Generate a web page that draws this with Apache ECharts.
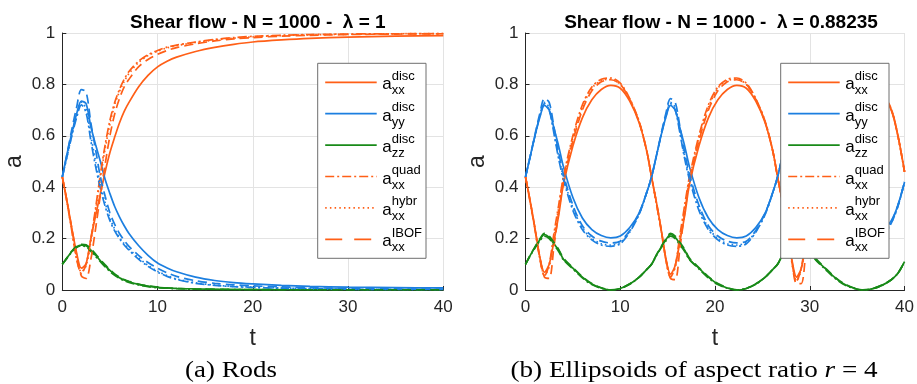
<!DOCTYPE html>
<html><head><meta charset="utf-8">
<script src="https://cdn.jsdelivr.net/npm/echarts@6/dist/echarts.min.js"></script>
<style>html,body{margin:0;padding:0;background:#fff}#c{width:917px;height:384px}</style>
</head><body><div id="c"></div>
<script>
// ---------- Left panel (rods, lambda = 1) ----------
const tL = [0,0.5,1,1.5,2,2.5,3,3.5,4,4.5,5,5.5,6,6.5,7,8,9,10,11,12,14,16,18,20,23,26,30,35,40];
const xxDiscL = [0.44,0.345,0.24,0.145,0.085,0.103,0.2,0.29,0.375,0.46,0.535,0.595,0.65,0.695,0.73,0.79,0.835,0.868,0.89,0.906,0.928,0.944,0.956,0.965,0.973,0.979,0.984,0.988,0.99];
const yyDiscL = [0.44,0.53,0.61,0.685,0.735,0.725,0.635,0.565,0.5,0.43,0.375,0.325,0.285,0.25,0.22,0.173,0.135,0.105,0.086,0.071,0.05,0.037,0.029,0.024,0.018,0.014,0.011,0.009,0.008];
const zzDiscL = [0.1,0.125,0.15,0.168,0.175,0.172,0.155,0.135,0.114,0.094,0.076,0.06,0.048,0.039,0.032,0.022,0.015,0.01,0.008,0.006,0.004,0.003,0.002,0.002,0.001,0.001,0.001,0.001,0.001];
const xxQuadL = [0.44,0.34,0.23,0.12,0.065,0.10,0.2,0.32,0.45,0.565,0.66,0.73,0.78,0.82,0.85,0.89,0.915,0.932,0.945,0.953,0.965,0.975,0.982,0.987,0.991,0.994,0.996,0.997,0.998];
const yyQuadL = [0.44,0.52,0.6,0.67,0.72,0.69,0.58,0.48,0.395,0.325,0.27,0.23,0.2,0.175,0.155,0.12,0.092,0.07,0.053,0.041,0.026,0.018,0.013,0.01,0.007,0.005,0.003,0.002,0.002];
const zzQuadL = [0.1,0.124,0.148,0.165,0.172,0.168,0.15,0.13,0.11,0.09,0.072,0.057,0.045,0.036,0.029,0.02,0.013,0.009,0.007,0.005,0.003,0.002,0.002,0.001,0.001,0.001,0.001,0.001,0.001];
const xxHybrL = [0.44,0.34,0.232,0.125,0.07,0.095,0.19,0.31,0.435,0.55,0.645,0.72,0.772,0.812,0.842,0.885,0.912,0.929,0.942,0.951,0.963,0.973,0.98,0.985,0.99,0.993,0.995,0.997,0.998];
const yyHybrL = [0.44,0.52,0.605,0.68,0.73,0.705,0.6,0.5,0.41,0.34,0.28,0.237,0.205,0.18,0.16,0.125,0.096,0.073,0.056,0.043,0.028,0.019,0.014,0.011,0.008,0.005,0.003,0.002,0.002];
const xxIbofL = [0.44,0.345,0.24,0.135,0.055,0.045,0.12,0.24,0.37,0.49,0.6,0.685,0.745,0.79,0.82,0.868,0.897,0.917,0.932,0.943,0.958,0.969,0.977,0.982,0.988,0.991,0.994,0.996,0.997];
const yyIbofL = [0.44,0.53,0.625,0.71,0.78,0.77,0.65,0.545,0.44,0.365,0.3,0.255,0.22,0.193,0.17,0.135,0.107,0.085,0.067,0.053,0.036,0.026,0.02,0.016,0.012,0.009,0.006,0.004,0.003];
const zzIbofL = [0.1,0.126,0.152,0.171,0.178,0.176,0.16,0.14,0.118,0.098,0.079,0.063,0.05,0.041,0.034,0.023,0.016,0.011,0.008,0.006,0.004,0.003,0.002,0.002,0.001,0.001,0.001,0.001,0.001];

// ---------- Right panel (ellipsoids, lambda = 0.88235) ----------
const tR = [0,0.5,1,1.5,2,2.5,3,3.5,4,5,6,7,8,9,10,11,12,12.8,
  13.3,13.8,14.3,14.8,15.3,15.8,16.3,16.8,17.3,18.3,19.3,20.3,21.3,22.3,23.3,24.3,25.3,26.1,
  26.6,27.1,27.6,28.1,28.6,29.1,29.6,30.1,30.6,31.6,32.6,33.6,34.6,35.6,36.6,37.6,38.6,39.3,40];
const xxDiscR = [0.44,0.345,0.24,0.13,0.069,0.10,0.19,0.29,0.41,0.56,0.67,0.74,0.78,0.796,0.785,0.735,0.65,0.54,
  0.44,0.345,0.24,0.125,0.062,0.095,0.19,0.29,0.41,0.56,0.67,0.74,0.78,0.796,0.785,0.735,0.65,0.54,
  0.44,0.345,0.235,0.12,0.05,0.085,0.18,0.285,0.40,0.55,0.665,0.735,0.775,0.795,0.79,0.76,0.70,0.60,0.46];
const yyDiscR = [0.44,0.52,0.60,0.67,0.718,0.70,0.63,0.56,0.48,0.36,0.28,0.235,0.212,0.203,0.21,0.243,0.30,0.38,
  0.44,0.52,0.60,0.67,0.718,0.70,0.63,0.56,0.48,0.36,0.28,0.235,0.212,0.203,0.21,0.243,0.30,0.38,
  0.44,0.52,0.60,0.67,0.718,0.70,0.63,0.56,0.48,0.36,0.28,0.235,0.212,0.203,0.205,0.225,0.27,0.33,0.42];
const zzDiscR = [0.10,0.135,0.166,0.195,0.216,0.205,0.18,0.155,0.12,0.085,0.05,0.023,0.008,0.0,0.006,0.023,0.05,0.08,
  0.10,0.135,0.166,0.195,0.216,0.205,0.18,0.155,0.12,0.085,0.05,0.023,0.008,0.0,0.006,0.023,0.05,0.08,
  0.10,0.135,0.166,0.195,0.216,0.205,0.18,0.155,0.12,0.085,0.05,0.023,0.008,0.0,0.005,0.018,0.04,0.065,0.11];
const xxQuadR = [0.44,0.34,0.235,0.125,0.055,0.10,0.22,0.33,0.44,0.60,0.72,0.79,0.82,0.825,0.805,0.745,0.655,0.54,
  0.44,0.34,0.235,0.12,0.05,0.095,0.215,0.33,0.44,0.60,0.72,0.79,0.82,0.825,0.805,0.745,0.655,0.54,
  0.44,0.34,0.23,0.11,0.035,0.085,0.21,0.325,0.435,0.595,0.715,0.785,0.82,0.825,0.81,0.77,0.705,0.60,0.46];
const yyQuadR = [0.44,0.52,0.60,0.675,0.725,0.70,0.61,0.51,0.43,0.31,0.235,0.195,0.175,0.17,0.18,0.225,0.295,0.38,
  0.44,0.52,0.60,0.675,0.725,0.70,0.61,0.51,0.43,0.31,0.235,0.195,0.175,0.17,0.18,0.225,0.295,0.38,
  0.44,0.52,0.60,0.675,0.725,0.70,0.61,0.51,0.43,0.31,0.235,0.195,0.175,0.17,0.175,0.205,0.26,0.325,0.42];
const zzQuadR = [0.10,0.133,0.163,0.19,0.21,0.20,0.175,0.15,0.118,0.082,0.047,0.021,0.007,0.0,0.006,0.022,0.05,0.08,
  0.10,0.133,0.163,0.19,0.21,0.20,0.175,0.15,0.118,0.082,0.047,0.021,0.007,0.0,0.006,0.022,0.05,0.08,
  0.10,0.133,0.163,0.19,0.21,0.20,0.175,0.15,0.118,0.082,0.047,0.021,0.007,0.0,0.005,0.017,0.04,0.065,0.11];
const xxHybrR = [0.44,0.34,0.237,0.128,0.058,0.09,0.205,0.32,0.43,0.59,0.71,0.785,0.815,0.82,0.80,0.742,0.653,0.54,
  0.44,0.34,0.237,0.122,0.052,0.088,0.2,0.32,0.43,0.59,0.71,0.785,0.815,0.82,0.80,0.742,0.653,0.54,
  0.44,0.34,0.232,0.112,0.035,0.08,0.195,0.315,0.425,0.585,0.705,0.78,0.815,0.82,0.805,0.765,0.703,0.60,0.46];
const yyHybrR = [0.44,0.52,0.60,0.675,0.73,0.71,0.615,0.52,0.44,0.32,0.242,0.2,0.18,0.175,0.185,0.228,0.297,0.38,
  0.44,0.52,0.60,0.675,0.73,0.71,0.615,0.52,0.44,0.32,0.242,0.2,0.18,0.175,0.185,0.228,0.297,0.38,
  0.44,0.52,0.60,0.675,0.73,0.71,0.615,0.52,0.44,0.32,0.242,0.2,0.18,0.175,0.18,0.208,0.262,0.327,0.42];
const xxIbofR = [0.44,0.345,0.24,0.13,0.05,0.045,0.17,0.30,0.42,0.58,0.70,0.775,0.81,0.818,0.80,0.742,0.652,0.54,
  0.44,0.345,0.24,0.125,0.045,0.04,0.165,0.30,0.42,0.58,0.70,0.775,0.81,0.818,0.80,0.742,0.652,0.54,
  0.44,0.345,0.235,0.115,0.025,0.025,0.155,0.29,0.415,0.575,0.695,0.77,0.81,0.818,0.805,0.765,0.702,0.60,0.46];
const yyIbofR = [0.44,0.52,0.605,0.685,0.745,0.73,0.635,0.535,0.45,0.33,0.25,0.21,0.19,0.183,0.19,0.232,0.30,0.38,
  0.44,0.52,0.605,0.685,0.745,0.73,0.635,0.535,0.45,0.33,0.25,0.21,0.19,0.183,0.19,0.232,0.30,0.38,
  0.44,0.52,0.605,0.685,0.745,0.73,0.635,0.535,0.45,0.33,0.25,0.21,0.19,0.183,0.185,0.212,0.265,0.33,0.42];
const zzIbofR = [0.10,0.136,0.168,0.198,0.22,0.21,0.185,0.158,0.124,0.087,0.052,0.025,0.009,0.001,0.006,0.024,0.05,0.08,
  0.10,0.136,0.168,0.198,0.22,0.21,0.185,0.158,0.124,0.087,0.052,0.025,0.009,0.001,0.006,0.024,0.05,0.08,
  0.10,0.136,0.168,0.198,0.22,0.21,0.185,0.158,0.124,0.087,0.052,0.025,0.009,0.001,0.005,0.019,0.04,0.065,0.11];

// ---------- texts ----------
const titles = ['Shear flow - N = 1000 -  \u03bb = 1', 'Shear flow - N = 1000 -  \u03bb = 0.88235'];
const xTicks = [0, 10, 20, 30, 40];
const yTicks = [0, 0.2, 0.4, 0.6, 0.8, 1];
const legendSup = ['disc', 'disc', 'disc', 'quad', 'hybr', 'IBOF'];
const legendSub = ['xx', 'yy', 'zz', 'xx', 'xx', 'xx'];

// ---------- styles ----------
const ORANGE = '#FF5F17', BLUE = '#1C7FE0', GREEN = '#188A18';
const SOLID = 'solid', DASHDOT = [9, 3, 2, 3], DOT = [1.5, 3], DASH = [9, 5];
const FONT = '"Liberation Sans", Arial, Helvetica, sans-serif';
const SERIF = '"Liberation Serif", "Times New Roman", serif';
const AX = '#262626';
const gridsPos = [{left: 62.3, top: 33, width: 381, height: 257}, {left: 525.5, top: 33, width: 381, height: 257}];

function pairs(t, v) { return t.map((x, i) => [x, v[i]]); }
function ser(g, t, v, color, type) {
  return {type: 'line', xAxisIndex: g, yAxisIndex: g, data: pairs(t, v), showSymbol: false, symbol: 'none',
    smooth: 0.3, lineStyle: {color: color, width: 1.7, type: type}, itemStyle: {color: color},
    animation: false, silent: true, z: 2};
}
function xAx(g) {
  return {gridIndex: g, type: 'value', min: 0, max: 40, interval: 10, name: 't', nameLocation: 'middle', nameGap: 37,
    nameTextStyle: {fontFamily: FONT, fontSize: 23, color: AX},
    axisLine: {show: true, onZero: false, lineStyle: {color: AX, width: 1}},
    axisTick: {show: true, inside: true, length: 4, lineStyle: {color: AX}},
    axisLabel: {fontFamily: FONT, fontSize: 17, color: AX, margin: 9,
      formatter: v => xTicks.includes(v) ? String(v) : ''},
    splitLine: {show: true, lineStyle: {color: '#e3e3e3', width: 1}}};
}
function yAx(g) {
  return {gridIndex: g, type: 'value', min: 0, max: 1, interval: 0.2, name: 'a', nameLocation: 'middle', nameGap: 36,
    nameTextStyle: {fontFamily: FONT, fontSize: 23, color: AX},
    axisLine: {show: true, onZero: false, lineStyle: {color: AX, width: 1}},
    axisTick: {show: true, inside: true, length: 4, lineStyle: {color: AX}},
    axisLabel: {fontFamily: FONT, fontSize: 17, color: AX, margin: 7,
      formatter: v => { const k = yTicks.find(y => Math.abs(y - v) < 1e-9); return k === undefined ? '' : String(k); }},
    splitLine: {show: true, lineStyle: {color: '#e3e3e3', width: 1}}};
}

const series = [];
[[tL, [xxDiscL, yyDiscL, zzDiscL], [xxQuadL, yyQuadL, zzQuadL], [xxHybrL, yyHybrL], [xxIbofL, yyIbofL, zzIbofL]],
 [tR, [xxDiscR, yyDiscR, zzDiscR], [xxQuadR, yyQuadR, zzQuadR], [xxHybrR, yyHybrR], [xxIbofR, yyIbofR, zzIbofR]]]
.forEach((p, g) => {
  const t = p[0], cols = [ORANGE, BLUE, GREEN];
  p[1].forEach((v, i) => series.push(ser(g, t, v, cols[i], SOLID)));
  p[2].forEach((v, i) => series.push(ser(g, t, v, cols[i], DASHDOT)));
  p[3].forEach((v, i) => series.push(ser(g, t, v, cols[i], DOT)));
  p[4].forEach((v, i) => series.push(ser(g, t, v, cols[i], DASH)));
});

// ---------- legend boxes (layout only) ----------
const legendColors = [ORANGE, BLUE, GREEN, ORANGE, ORANGE, ORANGE];
const legendTypes = [null, null, null, [9, 3, 2, 3], [1.5, 3.2], [17, 12]];
function legendItems(x0) {
  const y0 = 63.3, w = 108.3, h = 195, step = 31.4, first = 19, Z = 200;
  const ch = [{type: 'rect', z: Z, shape: {x: x0, y: y0, width: w, height: h},
    style: {fill: '#fff', stroke: '#6e6e6e', lineWidth: 1}}];
  for (let i = 0; i < 6; i++) {
    const L = y0 + first + i * step;
    const ls = {stroke: legendColors[i], lineWidth: 1.7, fill: null};
    if (legendTypes[i]) ls.lineDash = legendTypes[i];
    ch.push({type: 'line', z: Z + 1, shape: {x1: x0 + 7.5, y1: L, x2: x0 + 59, y2: L}, style: ls});
    ch.push({type: 'text', z: Z + 1, x: x0 + 64.5, y: L + 2.5,
      style: {text: 'a', fontFamily: FONT, fontSize: 17, fill: '#000', align: 'left', verticalAlign: 'middle'}});
    ch.push({type: 'text', z: Z + 1, x: x0 + 74, y: L - 6,
      style: {text: legendSup[i], fontFamily: FONT, fontSize: 13, fill: '#000', align: 'left', verticalAlign: 'middle'}});
    ch.push({type: 'text', z: Z + 1, x: x0 + 74, y: L + 8.5,
      style: {text: legendSub[i], fontFamily: FONT, fontSize: 13, fill: '#000', align: 'left', verticalAlign: 'middle'}});
  }
  return ch;
}

const chart = echarts.init(document.getElementById('c'), null, {renderer: 'canvas'});
chart.setOption({
  animation: false,
  backgroundColor: '#fff',
  title: titles.map((txt, g) => ({text: txt, left: gridsPos[g].left + gridsPos[g].width / 2, top: 8, textAlign: 'center',
    textStyle: {fontFamily: FONT, fontWeight: 'bold', fontSize: 19, color: '#000'}})),
  grid: gridsPos.map(p => Object.assign({containLabel: false}, p)),
  xAxis: [xAx(0), xAx(1)],
  yAxis: [yAx(0), yAx(1)],
  series: series,
  graphic: legendItems(317.7).concat(legendItems(780.7)).concat([
    {type: 'text', x: 231, y: 371, z: 200, scaleX: 1.12, style: {text: '(a) Rods', fontFamily: SERIF, fontSize: 24, fill: '#000', align: 'center', verticalAlign: 'middle'}},
    {type: 'text', x: 694, y: 371, z: 200, scaleX: 1.13, style: {text: '(b) Ellipsoids of aspect ratio {i|r} = 4', fontFamily: SERIF, fontSize: 24, fill: '#000', align: 'center', verticalAlign: 'middle',
      rich: {i: {fontFamily: SERIF, fontSize: 24, fontStyle: 'italic', fill: '#000'}}}}
  ])
});
</script></body></html>
